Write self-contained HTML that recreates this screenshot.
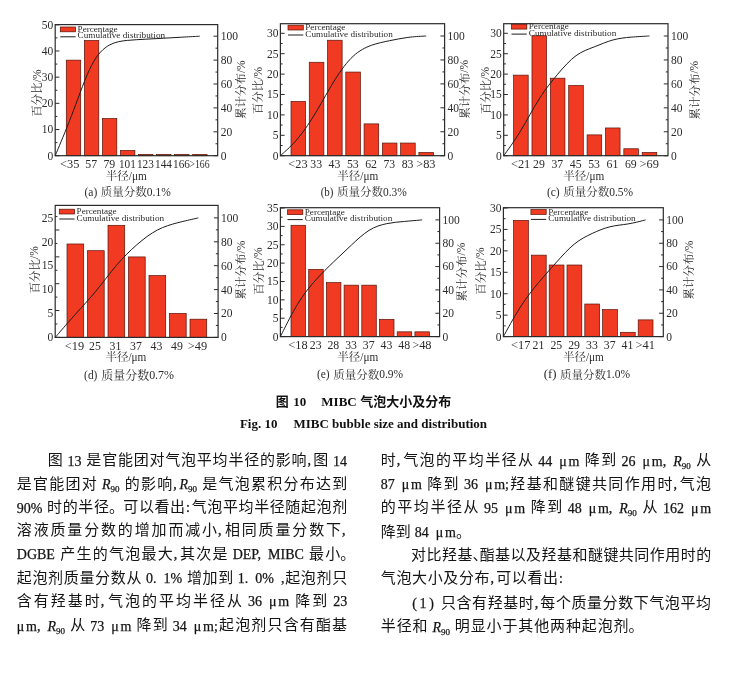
<!DOCTYPE html>
<html lang="zh-CN">
<head>
<meta charset="utf-8">
<title>MIBC bubble size and distribution</title>
<style>
html,body{margin:0;padding:0;background:#fff}
body{width:735px;height:675px;overflow:hidden;font-family:"Liberation Serif","Noto Serif CJK SC",serif;color:#141414}
.page{position:relative;width:735px;height:675px;overflow:hidden;background:#fff}
.fig{margin:0;position:absolute;left:0;top:0;width:735px;height:440px}
.charts{position:absolute;left:0;top:0;display:block;font-family:"Liberation Serif","Noto Serif CJK SC",serif;fill:#2b2b2b}
.bar{fill:#f03a22;stroke:#5a1208;stroke-width:.7}
.fr{fill:none;stroke:#2b2b2b;stroke-width:1.2}
.ln{fill:none;stroke:#2b2b2b;stroke-width:1}
.cv{fill:none;stroke:#1c1c1c;stroke-width:1}
.tk{font-size:11.5px}
.txt,figcaption,.charts text{filter:grayscale(1)}
.lg{font-size:9.2px}
.cap{position:absolute;left:0;width:727px;text-align:center;font-weight:bold;font-size:13px;line-height:16px;white-space:nowrap;display:flex;justify-content:center;align-items:center;height:16px;color:#111}
.c1{top:394.3px}
.c2{top:416px}
.cj{flex:none;font-family:"Liberation Sans","Noto Sans CJK SC",sans-serif;font-size:13px;font-weight:bold;color:#111}
.g{width:15px;height:15.6px;flex:none;overflow:visible;display:block;color:#141414;font-family:"Liberation Serif","Noto Sans CJK SC",sans-serif;font-size:15px;line-height:15.6px;text-align:center;white-space:nowrap}
.nj{justify-content:flex-start!important}
.tl{position:absolute;height:22px;display:flex;justify-content:space-between;align-items:center;font-size:14px;line-height:22px;white-space:nowrap}
.k{display:flex;align-items:center;flex:none}
.p{-webkit-text-stroke:.3px #141414;display:block;width:6px;text-align:left;padding-left:1px;box-sizing:border-box}
.g.pc{width:6.75px;overflow:visible;text-align:left}
.g.pf{margin-right:7px}
.l{flex:none;position:relative;top:.5px;word-spacing:3.5px;-webkit-text-stroke:.25px #141414}
.u{letter-spacing:1.7px;margin-right:-1.7px}
.par{letter-spacing:2.6px;margin-right:3px}
.pl{margin-left:4px}
.pr{margin-right:4px}
.l sub{font-size:9px;vertical-align:baseline;position:relative;top:3px;line-height:0}
.l i{font-style:italic}

</style>
</head>
<body>
<main class="page">
<figure class="fig">
<svg class="charts" width="735" height="400" viewBox="0 0 735 400" role="img" aria-label="MIBC bubble size and distribution charts">
<g>
<rect class="bar" x="66.30" y="60.14" width="14.40" height="95.56"/>
<rect class="bar" x="84.35" y="40.51" width="14.40" height="115.19"/>
<rect class="bar" x="102.40" y="118.52" width="14.40" height="37.18"/>
<rect class="bar" x="120.45" y="150.46" width="14.40" height="5.24"/>
<rect class="bar" x="138.50" y="154.39" width="14.40" height="1.31"/>
<rect class="bar" x="156.55" y="154.39" width="14.40" height="1.31"/>
<rect class="bar" x="174.60" y="154.39" width="14.40" height="1.31"/>
<rect class="bar" x="192.65" y="154.39" width="14.40" height="1.31"/>
<rect class="fr" x="55.20" y="24.60" width="162.50" height="131.10"/>
<text class="tk" text-anchor="end" x="53.20" y="159.60">0</text>
<text class="tk" text-anchor="end" x="53.20" y="133.42">10</text>
<text class="tk" text-anchor="end" x="53.20" y="107.24">20</text>
<text class="tk" text-anchor="end" x="53.20" y="81.06">30</text>
<text class="tk" text-anchor="end" x="53.20" y="54.88">40</text>
<text class="tk" text-anchor="end" x="53.20" y="28.70">50</text>
<text class="tk" x="220.70" y="159.60">0</text>
<text class="tk" x="220.70" y="135.70">20</text>
<text class="tk" x="220.70" y="111.80">40</text>
<text class="tk" x="220.70" y="87.90">60</text>
<text class="tk" x="220.70" y="64.00">80</text>
<text class="tk" x="220.70" y="40.10">100</text>
<path class="ln" d="M55.20 155.70h4.2M55.20 142.61h2.2M55.20 129.52h4.2M55.20 116.43h2.2M55.20 103.34h4.2M55.20 90.25h2.2M55.20 77.16h4.2M55.20 64.07h2.2M55.20 50.98h4.2M55.20 37.89h2.2M55.20 24.80h4.2M217.70 155.70h-4.2M217.70 143.75h-2.2M217.70 131.80h-4.2M217.70 119.85h-2.2M217.70 107.90h-4.2M217.70 95.95h-2.2M217.70 84.00h-4.2M217.70 72.05h-2.2M217.70 60.10h-4.2M217.70 48.15h-2.2M217.70 36.20h-4.2"/>
<path class="cv" d="M55.20 155.70C55.20 155.70 55.20 155.70 58.25 148.43C61.30 141.16 67.40 126.62 73.46 110.59C79.52 94.56 85.53 77.03 91.55 65.44C97.57 53.85 103.58 48.19 109.60 44.96C115.62 41.74 121.63 40.94 127.65 40.38C133.67 39.82 139.68 39.51 145.70 39.19C151.72 38.87 157.73 38.55 163.75 38.21C169.77 37.87 175.78 37.51 181.80 37.18C187.82 36.84 193.83 36.52 196.84 36.36C199.85 36.20 199.85 36.20 199.85 36.20"/>
<rect class="bar" x="60.30" y="27.00" width="15.3" height="4.8"/>
<path class="cv" d="M60.30 36.80h15.3"/>
<text class="lg" x="77.60" y="32.00" textLength="40" lengthAdjust="spacingAndGlyphs">Percentage</text>
<text class="lg" x="77.60" y="38.30" textLength="87.5" lengthAdjust="spacingAndGlyphs">Cumulative distribution</text>
<text class="tk" text-anchor="middle" x="69.70" y="168.10" textLength="19.4" lengthAdjust="spacingAndGlyphs">&lt;35</text>
<text class="tk" text-anchor="middle" x="91.25" y="168.10" textLength="11.8" lengthAdjust="spacingAndGlyphs">57</text>
<text class="tk" text-anchor="middle" x="109.30" y="168.10" textLength="11.8" lengthAdjust="spacingAndGlyphs">79</text>
<text class="tk" text-anchor="middle" x="127.35" y="168.10" textLength="16.9" lengthAdjust="spacingAndGlyphs">101</text>
<text class="tk" text-anchor="middle" x="145.40" y="168.10" textLength="16.9" lengthAdjust="spacingAndGlyphs">123</text>
<text class="tk" text-anchor="middle" x="163.45" y="168.10" textLength="16.9" lengthAdjust="spacingAndGlyphs">144</text>
<text class="tk" text-anchor="middle" x="181.50" y="168.10" textLength="16.9" lengthAdjust="spacingAndGlyphs">166</text>
<text class="tk" text-anchor="middle" x="199.55" y="168.10" textLength="20.0" lengthAdjust="spacingAndGlyphs">&gt;166</text>
<g transform="translate(126.30 175.80)"><title>半径/μm</title><text x="-20.47" y="4.20" font-size="11.50" textLength="23" lengthAdjust="spacingAndGlyphs">半径</text><text x="2.53" y="3.80" font-size="11.50" textLength="17.94" lengthAdjust="spacingAndGlyphs">/μm</text></g>
<g transform="translate(127.60 192.00)"><title>(a)质量分数0.1%</title><text x="-43.12" y="3.80" font-size="11.50" textLength="12.77" lengthAdjust="spacingAndGlyphs">(a)</text><text x="-26.80" y="4.20" font-size="11.50" textLength="46" lengthAdjust="spacingAndGlyphs">质量分数</text><text x="19.20" y="3.80" font-size="11.50" textLength="23.92" lengthAdjust="spacingAndGlyphs">0.1%</text></g>
<g transform="translate(36.80 93.00) rotate(-90)"><title>百分比/%</title><text x="-23.63" y="4.20" font-size="11.50" textLength="34.5" lengthAdjust="spacingAndGlyphs">百分比</text><text x="10.87" y="3.80" font-size="11.50" textLength="12.77" lengthAdjust="spacingAndGlyphs">/%</text></g>
<g transform="translate(240.80 89.70) rotate(-90)"><title>累计分布/%</title><text x="-29.38" y="4.20" font-size="11.50" textLength="46" lengthAdjust="spacingAndGlyphs">累计分布</text><text x="16.62" y="3.80" font-size="11.50" textLength="12.77" lengthAdjust="spacingAndGlyphs">/%</text></g>
</g>
<g>
<rect class="bar" x="291.00" y="101.44" width="14.60" height="54.26"/>
<rect class="bar" x="309.27" y="62.27" width="14.60" height="93.43"/>
<rect class="bar" x="327.54" y="40.24" width="14.60" height="115.46"/>
<rect class="bar" x="345.81" y="72.06" width="14.60" height="83.64"/>
<rect class="bar" x="364.08" y="123.88" width="14.60" height="31.82"/>
<rect class="bar" x="382.35" y="143.05" width="14.60" height="12.65"/>
<rect class="bar" x="400.62" y="143.05" width="14.60" height="12.65"/>
<rect class="bar" x="418.89" y="152.44" width="14.60" height="3.26"/>
<rect class="fr" x="280.40" y="23.70" width="164.20" height="132.00"/>
<text class="tk" text-anchor="end" x="278.40" y="159.60">0</text>
<text class="tk" text-anchor="end" x="278.40" y="139.20">5</text>
<text class="tk" text-anchor="end" x="278.40" y="118.80">10</text>
<text class="tk" text-anchor="end" x="278.40" y="98.40">15</text>
<text class="tk" text-anchor="end" x="278.40" y="78.00">20</text>
<text class="tk" text-anchor="end" x="278.40" y="57.60">25</text>
<text class="tk" text-anchor="end" x="278.40" y="37.20">30</text>
<text class="tk" x="447.60" y="159.60">0</text>
<text class="tk" x="447.60" y="135.66">20</text>
<text class="tk" x="447.60" y="111.72">40</text>
<text class="tk" x="447.60" y="87.78">60</text>
<text class="tk" x="447.60" y="63.84">80</text>
<text class="tk" x="447.60" y="39.90">100</text>
<path class="ln" d="M280.40 155.70h4.2M280.40 145.50h2.2M280.40 135.30h4.2M280.40 125.10h2.2M280.40 114.90h4.2M280.40 104.70h2.2M280.40 94.50h4.2M280.40 84.30h2.2M280.40 74.10h4.2M280.40 63.90h2.2M280.40 53.70h4.2M280.40 43.50h2.2M280.40 33.30h4.2M444.60 155.70h-4.2M444.60 143.73h-2.2M444.60 131.76h-4.2M444.60 119.79h-2.2M444.60 107.82h-4.2M444.60 95.85h-2.2M444.60 83.88h-4.2M444.60 71.91h-2.2M444.60 59.94h-4.2M444.60 47.97h-2.2M444.60 36.00h-4.2"/>
<path class="cv" d="M280.40 155.70C280.40 155.70 280.40 155.70 283.38 153.04C286.37 150.38 292.33 145.07 298.36 137.83C304.39 130.59 310.48 121.44 316.57 111.20C322.66 100.97 328.75 89.65 334.84 79.90C340.93 70.14 347.02 61.95 353.11 56.29C359.20 50.63 365.29 47.51 371.38 45.34C377.47 43.16 383.56 41.92 389.65 40.68C395.74 39.44 401.83 38.20 407.92 37.42C414.01 36.64 420.10 36.32 423.14 36.16C426.19 36.00 426.19 36.00 426.19 36.00"/>
<rect class="bar" x="288.00" y="25.20" width="15.3" height="4.8"/>
<path class="cv" d="M288.00 35.00h15.3"/>
<text class="lg" x="305.30" y="30.20" textLength="40" lengthAdjust="spacingAndGlyphs">Percentage</text>
<text class="lg" x="305.30" y="36.50" textLength="87.5" lengthAdjust="spacingAndGlyphs">Cumulative distribution</text>
<text class="tk" text-anchor="middle" x="298.00" y="168.10" textLength="19.4" lengthAdjust="spacingAndGlyphs">&lt;23</text>
<text class="tk" text-anchor="middle" x="316.27" y="168.10" textLength="11.8" lengthAdjust="spacingAndGlyphs">33</text>
<text class="tk" text-anchor="middle" x="334.54" y="168.10" textLength="11.8" lengthAdjust="spacingAndGlyphs">43</text>
<text class="tk" text-anchor="middle" x="352.81" y="168.10" textLength="11.8" lengthAdjust="spacingAndGlyphs">53</text>
<text class="tk" text-anchor="middle" x="371.08" y="168.10" textLength="11.8" lengthAdjust="spacingAndGlyphs">62</text>
<text class="tk" text-anchor="middle" x="389.35" y="168.10" textLength="11.8" lengthAdjust="spacingAndGlyphs">73</text>
<text class="tk" text-anchor="middle" x="407.62" y="168.10" textLength="11.8" lengthAdjust="spacingAndGlyphs">83</text>
<text class="tk" text-anchor="middle" x="425.89" y="168.10" textLength="19.4" lengthAdjust="spacingAndGlyphs">&gt;83</text>
<g transform="translate(357.80 175.80)"><title>半径/μm</title><text x="-20.47" y="4.20" font-size="11.50" textLength="23" lengthAdjust="spacingAndGlyphs">半径</text><text x="2.53" y="3.80" font-size="11.50" textLength="17.94" lengthAdjust="spacingAndGlyphs">/μm</text></g>
<g transform="translate(363.80 192.00)"><title>(b)质量分数0.3%</title><text x="-43.12" y="3.80" font-size="11.50" textLength="12.77" lengthAdjust="spacingAndGlyphs">(b)</text><text x="-26.80" y="4.20" font-size="11.50" textLength="46" lengthAdjust="spacingAndGlyphs">质量分数</text><text x="19.20" y="3.80" font-size="11.50" textLength="23.92" lengthAdjust="spacingAndGlyphs">0.3%</text></g>
<g transform="translate(257.90 90.50) rotate(-90)"><title>百分比/%</title><text x="-23.63" y="4.20" font-size="11.50" textLength="34.5" lengthAdjust="spacingAndGlyphs">百分比</text><text x="10.87" y="3.80" font-size="11.50" textLength="12.77" lengthAdjust="spacingAndGlyphs">/%</text></g>
<g transform="translate(464.40 89.30) rotate(-90)"><title>累计分布/%</title><text x="-29.38" y="4.20" font-size="11.50" textLength="46" lengthAdjust="spacingAndGlyphs">累计分布</text><text x="16.62" y="3.80" font-size="11.50" textLength="12.77" lengthAdjust="spacingAndGlyphs">/%</text></g>
</g>
<g>
<rect class="bar" x="513.60" y="75.12" width="14.60" height="80.58"/>
<rect class="bar" x="531.97" y="35.75" width="14.60" height="119.95"/>
<rect class="bar" x="550.34" y="78.18" width="14.60" height="77.52"/>
<rect class="bar" x="568.71" y="85.52" width="14.60" height="70.18"/>
<rect class="bar" x="587.08" y="134.89" width="14.60" height="20.81"/>
<rect class="bar" x="605.45" y="127.96" width="14.60" height="27.74"/>
<rect class="bar" x="623.82" y="148.76" width="14.60" height="6.94"/>
<rect class="bar" x="642.19" y="152.44" width="14.60" height="3.26"/>
<rect class="fr" x="503.70" y="23.70" width="164.30" height="132.00"/>
<text class="tk" text-anchor="end" x="501.70" y="159.60">0</text>
<text class="tk" text-anchor="end" x="501.70" y="139.20">5</text>
<text class="tk" text-anchor="end" x="501.70" y="118.80">10</text>
<text class="tk" text-anchor="end" x="501.70" y="98.40">15</text>
<text class="tk" text-anchor="end" x="501.70" y="78.00">20</text>
<text class="tk" text-anchor="end" x="501.70" y="57.60">25</text>
<text class="tk" text-anchor="end" x="501.70" y="37.20">30</text>
<text class="tk" x="671.00" y="159.60">0</text>
<text class="tk" x="671.00" y="135.66">20</text>
<text class="tk" x="671.00" y="111.72">40</text>
<text class="tk" x="671.00" y="87.78">60</text>
<text class="tk" x="671.00" y="63.84">80</text>
<text class="tk" x="671.00" y="39.90">100</text>
<path class="ln" d="M503.70 155.70h4.2M503.70 145.50h2.2M503.70 135.30h4.2M503.70 125.10h2.2M503.70 114.90h4.2M503.70 104.70h2.2M503.70 94.50h4.2M503.70 84.30h2.2M503.70 74.10h4.2M503.70 63.90h2.2M503.70 53.70h4.2M503.70 43.50h2.2M503.70 33.30h4.2M668.00 155.70h-4.2M668.00 143.73h-2.2M668.00 131.76h-4.2M668.00 119.79h-2.2M668.00 107.82h-4.2M668.00 95.85h-2.2M668.00 83.88h-4.2M668.00 71.91h-2.2M668.00 59.94h-4.2M668.00 47.97h-2.2M668.00 36.00h-4.2"/>
<path class="cv" d="M503.70 155.70C503.70 155.70 503.70 155.70 506.57 151.75C509.43 147.80 515.17 139.90 521.09 130.07C527.02 120.24 533.15 108.48 539.27 98.80C545.39 89.12 551.52 81.52 557.64 74.28C563.76 67.04 569.89 60.16 576.01 55.70C582.13 51.24 588.26 49.20 594.38 46.82C600.50 44.44 606.63 41.72 612.75 40.02C618.87 38.32 625.00 37.64 631.12 37.14C637.24 36.64 643.37 36.32 646.43 36.16C649.49 36.00 649.49 36.00 649.49 36.00"/>
<rect class="bar" x="511.50" y="24.30" width="15.3" height="4.8"/>
<path class="cv" d="M511.50 34.10h15.3"/>
<text class="lg" x="528.80" y="29.30" textLength="40" lengthAdjust="spacingAndGlyphs">Percentage</text>
<text class="lg" x="528.80" y="35.60" textLength="87.5" lengthAdjust="spacingAndGlyphs">Cumulative distribution</text>
<text class="tk" text-anchor="middle" x="520.60" y="168.10" textLength="19.4" lengthAdjust="spacingAndGlyphs">&lt;21</text>
<text class="tk" text-anchor="middle" x="538.97" y="168.10" textLength="11.8" lengthAdjust="spacingAndGlyphs">29</text>
<text class="tk" text-anchor="middle" x="557.34" y="168.10" textLength="11.8" lengthAdjust="spacingAndGlyphs">37</text>
<text class="tk" text-anchor="middle" x="575.71" y="168.10" textLength="11.8" lengthAdjust="spacingAndGlyphs">45</text>
<text class="tk" text-anchor="middle" x="594.08" y="168.10" textLength="11.8" lengthAdjust="spacingAndGlyphs">53</text>
<text class="tk" text-anchor="middle" x="612.45" y="168.10" textLength="11.8" lengthAdjust="spacingAndGlyphs">61</text>
<text class="tk" text-anchor="middle" x="630.82" y="168.10" textLength="11.8" lengthAdjust="spacingAndGlyphs">69</text>
<text class="tk" text-anchor="middle" x="649.19" y="168.10" textLength="19.4" lengthAdjust="spacingAndGlyphs">&gt;69</text>
<g transform="translate(583.80 175.80)"><title>半径/μm</title><text x="-20.47" y="4.20" font-size="11.50" textLength="23" lengthAdjust="spacingAndGlyphs">半径</text><text x="2.53" y="3.80" font-size="11.50" textLength="17.94" lengthAdjust="spacingAndGlyphs">/μm</text></g>
<g transform="translate(590.00 192.00)"><title>(c)质量分数0.5%</title><text x="-43.12" y="3.80" font-size="11.50" textLength="12.77" lengthAdjust="spacingAndGlyphs">(c)</text><text x="-26.80" y="4.20" font-size="11.50" textLength="46" lengthAdjust="spacingAndGlyphs">质量分数</text><text x="19.20" y="3.80" font-size="11.50" textLength="23.92" lengthAdjust="spacingAndGlyphs">0.5%</text></g>
<g transform="translate(485.40 90.50) rotate(-90)"><title>百分比/%</title><text x="-23.63" y="4.20" font-size="11.50" textLength="34.5" lengthAdjust="spacingAndGlyphs">百分比</text><text x="10.87" y="3.80" font-size="11.50" textLength="12.77" lengthAdjust="spacingAndGlyphs">/%</text></g>
<g transform="translate(694.40 90.20) rotate(-90)"><title>累计分布/%</title><text x="-29.38" y="4.20" font-size="11.50" textLength="46" lengthAdjust="spacingAndGlyphs">累计分布</text><text x="16.62" y="3.80" font-size="11.50" textLength="12.77" lengthAdjust="spacingAndGlyphs">/%</text></g>
</g>
<g>
<rect class="bar" x="67.00" y="243.99" width="16.70" height="93.41"/>
<rect class="bar" x="87.50" y="250.70" width="16.70" height="86.70"/>
<rect class="bar" x="108.00" y="225.31" width="16.70" height="112.09"/>
<rect class="bar" x="128.50" y="256.93" width="16.70" height="80.47"/>
<rect class="bar" x="149.00" y="275.61" width="16.70" height="61.79"/>
<rect class="bar" x="169.50" y="313.45" width="16.70" height="23.95"/>
<rect class="bar" x="190.00" y="319.20" width="16.70" height="18.20"/>
<rect class="fr" x="55.20" y="205.40" width="162.90" height="132.00"/>
<text class="tk" text-anchor="end" x="53.20" y="341.30">0</text>
<text class="tk" text-anchor="end" x="53.20" y="317.35">5</text>
<text class="tk" text-anchor="end" x="53.20" y="293.40">10</text>
<text class="tk" text-anchor="end" x="53.20" y="269.45">15</text>
<text class="tk" text-anchor="end" x="53.20" y="245.50">20</text>
<text class="tk" text-anchor="end" x="53.20" y="221.55">25</text>
<text class="tk" x="221.10" y="341.30">0</text>
<text class="tk" x="221.10" y="317.40">20</text>
<text class="tk" x="221.10" y="293.50">40</text>
<text class="tk" x="221.10" y="269.60">60</text>
<text class="tk" x="221.10" y="245.70">80</text>
<text class="tk" x="221.10" y="221.80">100</text>
<path class="ln" d="M55.20 337.40h4.2M55.20 323.97h2.2M55.20 310.55h4.2M55.20 297.12h2.2M55.20 283.70h4.2M55.20 270.27h2.2M55.20 256.85h4.2M55.20 243.42h2.2M55.20 230.00h4.2M55.20 216.57h2.2M218.10 337.40h-4.2M218.10 325.45h-2.2M218.10 313.50h-4.2M218.10 301.55h-2.2M218.10 289.60h-4.2M218.10 277.65h-2.2M218.10 265.70h-4.2M218.10 253.75h-2.2M218.10 241.80h-4.2M218.10 229.85h-2.2M218.10 217.90h-4.2"/>
<path class="cv" d="M55.20 337.40C55.20 337.40 55.20 337.40 58.56 333.50C61.92 329.59 68.63 321.79 75.41 314.26C82.18 306.73 89.02 299.49 95.85 291.18C102.68 282.87 109.52 273.51 116.35 265.46C123.18 257.41 130.02 250.69 136.85 244.74C143.68 238.80 150.52 233.63 157.35 230.05C164.18 226.47 171.02 224.47 177.85 222.70C184.68 220.94 191.52 219.42 194.93 218.66C198.35 217.90 198.35 217.90 198.35 217.90"/>
<rect class="bar" x="59.30" y="209.20" width="15.3" height="4.8"/>
<path class="cv" d="M59.30 219.00h15.3"/>
<text class="lg" x="76.60" y="214.20" textLength="40" lengthAdjust="spacingAndGlyphs">Percentage</text>
<text class="lg" x="76.60" y="220.50" textLength="87.5" lengthAdjust="spacingAndGlyphs">Cumulative distribution</text>
<text class="tk" text-anchor="middle" x="74.45" y="349.80" textLength="19.4" lengthAdjust="spacingAndGlyphs">&lt;19</text>
<text class="tk" text-anchor="middle" x="94.95" y="349.80" textLength="11.8" lengthAdjust="spacingAndGlyphs">25</text>
<text class="tk" text-anchor="middle" x="115.45" y="349.80" textLength="11.8" lengthAdjust="spacingAndGlyphs">31</text>
<text class="tk" text-anchor="middle" x="135.95" y="349.80" textLength="11.8" lengthAdjust="spacingAndGlyphs">37</text>
<text class="tk" text-anchor="middle" x="156.45" y="349.80" textLength="11.8" lengthAdjust="spacingAndGlyphs">43</text>
<text class="tk" text-anchor="middle" x="176.95" y="349.80" textLength="11.8" lengthAdjust="spacingAndGlyphs">49</text>
<text class="tk" text-anchor="middle" x="197.45" y="349.80" textLength="19.4" lengthAdjust="spacingAndGlyphs">&gt;49</text>
<g transform="translate(125.90 357.00)"><title>半径/μm</title><text x="-20.47" y="4.20" font-size="11.50" textLength="23" lengthAdjust="spacingAndGlyphs">半径</text><text x="2.53" y="3.80" font-size="11.50" textLength="17.94" lengthAdjust="spacingAndGlyphs">/μm</text></g>
<g transform="translate(129.10 375.10)"><title>(d)质量分数0.7%</title><text x="-45.00" y="3.96" font-size="12.00" textLength="13.32" lengthAdjust="spacingAndGlyphs">(d)</text><text x="-27.96" y="4.40" font-size="12.00" textLength="48" lengthAdjust="spacingAndGlyphs">质量分数</text><text x="20.04" y="3.96" font-size="12.00" textLength="24.96" lengthAdjust="spacingAndGlyphs">0.7%</text></g>
<g transform="translate(34.40 269.80) rotate(-90)"><title>百分比/%</title><text x="-23.63" y="4.20" font-size="11.50" textLength="34.5" lengthAdjust="spacingAndGlyphs">百分比</text><text x="10.87" y="3.80" font-size="11.50" textLength="12.77" lengthAdjust="spacingAndGlyphs">/%</text></g>
<g transform="translate(241.20 270.00) rotate(-90)"><title>累计分布/%</title><text x="-29.38" y="4.20" font-size="11.50" textLength="46" lengthAdjust="spacingAndGlyphs">累计分布</text><text x="16.62" y="3.80" font-size="11.50" textLength="12.77" lengthAdjust="spacingAndGlyphs">/%</text></g>
</g>
<g>
<rect class="bar" x="291.00" y="225.28" width="14.50" height="111.32"/>
<rect class="bar" x="308.70" y="269.37" width="14.50" height="67.23"/>
<rect class="bar" x="326.40" y="282.59" width="14.50" height="54.01"/>
<rect class="bar" x="344.10" y="285.16" width="14.50" height="51.44"/>
<rect class="bar" x="361.80" y="285.16" width="14.50" height="51.44"/>
<rect class="bar" x="379.50" y="319.33" width="14.50" height="17.27"/>
<rect class="bar" x="397.20" y="331.82" width="14.50" height="4.78"/>
<rect class="bar" x="414.90" y="331.82" width="14.50" height="4.78"/>
<rect class="fr" x="280.40" y="207.70" width="159.20" height="128.90"/>
<text class="tk" text-anchor="end" x="278.40" y="340.50">0</text>
<text class="tk" text-anchor="end" x="278.40" y="322.13">5</text>
<text class="tk" text-anchor="end" x="278.40" y="303.76">10</text>
<text class="tk" text-anchor="end" x="278.40" y="285.39">15</text>
<text class="tk" text-anchor="end" x="278.40" y="267.02">20</text>
<text class="tk" text-anchor="end" x="278.40" y="248.65">25</text>
<text class="tk" text-anchor="end" x="278.40" y="230.28">30</text>
<text class="tk" text-anchor="end" x="278.40" y="211.91">35</text>
<text class="tk" x="442.60" y="340.50">0</text>
<text class="tk" x="442.60" y="317.16">20</text>
<text class="tk" x="442.60" y="293.82">40</text>
<text class="tk" x="442.60" y="270.48">60</text>
<text class="tk" x="442.60" y="247.14">80</text>
<text class="tk" x="442.60" y="223.80">100</text>
<path class="ln" d="M280.40 336.60h4.2M280.40 327.42h2.2M280.40 318.23h4.2M280.40 309.05h2.2M280.40 299.86h4.2M280.40 290.68h2.2M280.40 281.49h4.2M280.40 272.31h2.2M280.40 263.12h4.2M280.40 253.94h2.2M280.40 244.75h4.2M280.40 235.57h2.2M280.40 226.38h4.2M280.40 217.20h2.2M280.40 208.01h4.2M439.60 336.60h-4.2M439.60 324.93h-2.2M439.60 313.26h-4.2M439.60 301.59h-2.2M439.60 289.92h-4.2M439.60 278.25h-2.2M439.60 266.58h-4.2M439.60 254.91h-2.2M439.60 243.24h-4.2M439.60 231.57h-2.2M439.60 219.90h-4.2"/>
<path class="cv" d="M280.40 336.60C280.40 336.60 280.40 336.60 283.38 330.62C286.35 324.65 292.30 312.69 298.22 303.10C304.15 293.52 310.05 286.30 315.95 279.79C321.85 273.28 327.75 267.48 333.65 261.82C339.55 256.16 345.45 250.63 351.35 245.11C357.25 239.59 363.15 234.06 369.05 230.37C374.95 226.69 380.85 224.83 386.75 223.65C392.65 222.46 398.55 221.95 404.45 221.44C410.35 220.93 416.25 220.41 419.20 220.16C422.15 219.90 422.15 219.90 422.15 219.90"/>
<rect class="bar" x="287.50" y="209.80" width="15.3" height="4.8"/>
<path class="cv" d="M287.50 219.60h15.3"/>
<text class="lg" x="304.80" y="214.80" textLength="40" lengthAdjust="spacingAndGlyphs">Percentage</text>
<text class="lg" x="304.80" y="221.10" textLength="87.5" lengthAdjust="spacingAndGlyphs">Cumulative distribution</text>
<text class="tk" text-anchor="middle" x="297.95" y="349.00" textLength="19.4" lengthAdjust="spacingAndGlyphs">&lt;18</text>
<text class="tk" text-anchor="middle" x="315.65" y="349.00" textLength="11.8" lengthAdjust="spacingAndGlyphs">23</text>
<text class="tk" text-anchor="middle" x="333.35" y="349.00" textLength="11.8" lengthAdjust="spacingAndGlyphs">28</text>
<text class="tk" text-anchor="middle" x="351.05" y="349.00" textLength="11.8" lengthAdjust="spacingAndGlyphs">33</text>
<text class="tk" text-anchor="middle" x="368.75" y="349.00" textLength="11.8" lengthAdjust="spacingAndGlyphs">37</text>
<text class="tk" text-anchor="middle" x="386.45" y="349.00" textLength="11.8" lengthAdjust="spacingAndGlyphs">43</text>
<text class="tk" text-anchor="middle" x="404.15" y="349.00" textLength="11.8" lengthAdjust="spacingAndGlyphs">48</text>
<text class="tk" text-anchor="middle" x="421.85" y="349.00" textLength="19.4" lengthAdjust="spacingAndGlyphs">&gt;48</text>
<g transform="translate(357.80 357.00)"><title>半径/μm</title><text x="-20.47" y="4.20" font-size="11.50" textLength="23" lengthAdjust="spacingAndGlyphs">半径</text><text x="2.53" y="3.80" font-size="11.50" textLength="17.94" lengthAdjust="spacingAndGlyphs">/μm</text></g>
<g transform="translate(360.00 374.50)"><title>(e)质量分数0.9%</title><text x="-43.12" y="3.80" font-size="11.50" textLength="12.77" lengthAdjust="spacingAndGlyphs">(e)</text><text x="-26.80" y="4.20" font-size="11.50" textLength="46" lengthAdjust="spacingAndGlyphs">质量分数</text><text x="19.20" y="3.80" font-size="11.50" textLength="23.92" lengthAdjust="spacingAndGlyphs">0.9%</text></g>
<g transform="translate(258.30 271.00) rotate(-90)"><title>百分比/%</title><text x="-23.63" y="4.20" font-size="11.50" textLength="34.5" lengthAdjust="spacingAndGlyphs">百分比</text><text x="10.87" y="3.80" font-size="11.50" textLength="12.77" lengthAdjust="spacingAndGlyphs">/%</text></g>
<g transform="translate(461.50 272.00) rotate(-90)"><title>累计分布/%</title><text x="-29.38" y="4.20" font-size="11.50" textLength="46" lengthAdjust="spacingAndGlyphs">累计分布</text><text x="16.62" y="3.80" font-size="11.50" textLength="12.77" lengthAdjust="spacingAndGlyphs">/%</text></g>
</g>
<g>
<rect class="bar" x="513.60" y="220.42" width="14.80" height="116.18"/>
<rect class="bar" x="531.40" y="255.15" width="14.80" height="81.45"/>
<rect class="bar" x="549.20" y="265.01" width="14.80" height="71.59"/>
<rect class="bar" x="567.00" y="265.01" width="14.80" height="71.59"/>
<rect class="bar" x="584.80" y="304.02" width="14.80" height="32.58"/>
<rect class="bar" x="602.60" y="309.59" width="14.80" height="27.01"/>
<rect class="bar" x="620.40" y="332.31" width="14.80" height="4.29"/>
<rect class="bar" x="638.20" y="319.88" width="14.80" height="16.72"/>
<rect class="fr" x="503.40" y="207.70" width="159.90" height="128.90"/>
<text class="tk" text-anchor="end" x="501.40" y="340.50">0</text>
<text class="tk" text-anchor="end" x="501.40" y="319.06">5</text>
<text class="tk" text-anchor="end" x="501.40" y="297.63">10</text>
<text class="tk" text-anchor="end" x="501.40" y="276.19">15</text>
<text class="tk" text-anchor="end" x="501.40" y="254.76">20</text>
<text class="tk" text-anchor="end" x="501.40" y="233.33">25</text>
<text class="tk" text-anchor="end" x="501.40" y="211.89">30</text>
<text class="tk" x="666.30" y="340.50">0</text>
<text class="tk" x="666.30" y="317.16">20</text>
<text class="tk" x="666.30" y="293.82">40</text>
<text class="tk" x="666.30" y="270.48">60</text>
<text class="tk" x="666.30" y="247.14">80</text>
<text class="tk" x="666.30" y="223.80">100</text>
<path class="ln" d="M503.40 336.60h4.2M503.40 325.88h2.2M503.40 315.17h4.2M503.40 304.45h2.2M503.40 293.73h4.2M503.40 283.01h2.2M503.40 272.30h4.2M503.40 261.58h2.2M503.40 250.86h4.2M503.40 240.14h2.2M503.40 229.43h4.2M503.40 218.71h2.2M503.40 207.99h4.2M663.30 336.60h-4.2M663.30 324.93h-2.2M663.30 313.26h-4.2M663.30 301.59h-2.2M663.30 289.92h-4.2M663.30 278.25h-2.2M663.30 266.58h-4.2M663.30 254.91h-2.2M663.30 243.24h-4.2M663.30 231.57h-2.2M663.30 219.90h-4.2"/>
<path class="cv" d="M503.40 336.60C503.40 336.60 503.40 336.60 506.33 331.24C509.27 325.88 515.13 315.15 521.03 306.03C526.93 296.91 532.87 289.39 538.80 282.33C544.73 275.26 550.67 268.65 556.60 262.04C562.53 255.44 568.47 248.83 574.40 244.02C580.33 239.21 586.27 236.20 592.20 233.45C598.13 230.70 604.07 228.21 610.00 226.77C615.93 225.32 621.87 224.93 627.80 223.96C633.73 222.99 639.67 221.44 642.63 220.67C645.60 219.90 645.60 219.90 645.60 219.90"/>
<rect class="bar" x="530.90" y="209.60" width="15.3" height="4.8"/>
<path class="cv" d="M530.90 219.40h15.3"/>
<text class="lg" x="548.20" y="214.60" textLength="40" lengthAdjust="spacingAndGlyphs">Percentage</text>
<text class="lg" x="548.20" y="220.90" textLength="87.5" lengthAdjust="spacingAndGlyphs">Cumulative distribution</text>
<text class="tk" text-anchor="middle" x="520.70" y="349.00" textLength="19.4" lengthAdjust="spacingAndGlyphs">&lt;17</text>
<text class="tk" text-anchor="middle" x="538.50" y="349.00" textLength="11.8" lengthAdjust="spacingAndGlyphs">21</text>
<text class="tk" text-anchor="middle" x="556.30" y="349.00" textLength="11.8" lengthAdjust="spacingAndGlyphs">25</text>
<text class="tk" text-anchor="middle" x="574.10" y="349.00" textLength="11.8" lengthAdjust="spacingAndGlyphs">29</text>
<text class="tk" text-anchor="middle" x="591.90" y="349.00" textLength="11.8" lengthAdjust="spacingAndGlyphs">33</text>
<text class="tk" text-anchor="middle" x="609.70" y="349.00" textLength="11.8" lengthAdjust="spacingAndGlyphs">37</text>
<text class="tk" text-anchor="middle" x="627.50" y="349.00" textLength="11.8" lengthAdjust="spacingAndGlyphs">41</text>
<text class="tk" text-anchor="middle" x="645.30" y="349.00" textLength="19.4" lengthAdjust="spacingAndGlyphs">&gt;41</text>
<g transform="translate(583.40 357.00)"><title>半径/μm</title><text x="-20.47" y="4.20" font-size="11.50" textLength="23" lengthAdjust="spacingAndGlyphs">半径</text><text x="2.53" y="3.80" font-size="11.50" textLength="17.94" lengthAdjust="spacingAndGlyphs">/μm</text></g>
<g transform="translate(586.90 374.50)"><title>(f)质量分数1.0%</title><text x="-43.12" y="3.80" font-size="11.50" textLength="12.77" lengthAdjust="spacingAndGlyphs">(f)</text><text x="-26.80" y="4.20" font-size="11.50" textLength="46" lengthAdjust="spacingAndGlyphs">质量分数</text><text x="19.20" y="3.80" font-size="11.50" textLength="23.92" lengthAdjust="spacingAndGlyphs">1.0%</text></g>
<g transform="translate(480.40 271.00) rotate(-90)"><title>百分比/%</title><text x="-23.63" y="4.20" font-size="11.50" textLength="34.5" lengthAdjust="spacingAndGlyphs">百分比</text><text x="10.87" y="3.80" font-size="11.50" textLength="12.77" lengthAdjust="spacingAndGlyphs">/%</text></g>
<g transform="translate(689.00 270.00) rotate(-90)"><title>累计分布/%</title><text x="-29.38" y="4.20" font-size="11.50" textLength="46" lengthAdjust="spacingAndGlyphs">累计分布</text><text x="16.62" y="3.80" font-size="11.50" textLength="12.77" lengthAdjust="spacingAndGlyphs">/%</text></g>
</g>
</svg>
<figcaption>
<div class="cap c1"><span class="cj">图</span><span style="margin-left:4.5px">10</span><span style="margin:0 3.5px 0 15px">MIBC</span><span class="cj">气泡大小及分布</span></div>
<div class="cap c2"><span>Fig. 10</span><span style="margin-left:16px">MIBC bubble size and distribution</span></div>
</figcaption>
</figure>
<section class="txt">
<div class="tl" style="left:47.8px;top:450.0px;width:299.4px"><span class="g">图</span><span class="l pl pr">13</span><span class="g">是</span><span class="g">官</span><span class="g">能</span><span class="g">团</span><span class="g">对</span><span class="g">气</span><span class="g">泡</span><span class="g">平</span><span class="g">均</span><span class="g">半</span><span class="g">径</span><span class="g">的</span><span class="g">影</span><span class="k"><span class="g">响</span><span class="p">,</span></span><span class="g">图</span><span class="l pl">14</span></div>
<div class="tl" style="left:16.8px;top:473.6px;width:330.4px"><span class="g">是</span><span class="g">官</span><span class="g">能</span><span class="g">团</span><span class="g">对</span><span class="l pl pr"><i>R</i><sub>90</sub></span><span class="g">的</span><span class="g">影</span><span class="k"><span class="g">响</span><span class="p">,</span></span><span class="l pr"><i>R</i><sub>90</sub></span><span class="g">是</span><span class="g">气</span><span class="g">泡</span><span class="g">累</span><span class="g">积</span><span class="g">分</span><span class="g">布</span><span class="g">达</span><span class="g">到</span></div>
<div class="tl" style="left:16.8px;top:497.2px;width:330.4px"><span class="l pr">90%</span><span class="g">时</span><span class="g">的</span><span class="g">半</span><span class="k"><span class="g">径</span><span class="g pc pf">。</span></span><span class="g">可</span><span class="g">以</span><span class="g">看</span><span class="k"><span class="g">出</span><span class="p">:</span></span><span class="g">气</span><span class="g">泡</span><span class="g">平</span><span class="g">均</span><span class="g">半</span><span class="g">径</span><span class="g">随</span><span class="g">起</span><span class="g">泡</span><span class="g">剂</span></div>
<div class="tl" style="left:16.8px;top:520.0px;width:330.4px"><span class="g">溶</span><span class="g">液</span><span class="g">质</span><span class="g">量</span><span class="g">分</span><span class="g">数</span><span class="g">的</span><span class="g">增</span><span class="g">加</span><span class="g">而</span><span class="g">减</span><span class="k"><span class="g">小</span><span class="p">,</span></span><span class="g">相</span><span class="g">同</span><span class="g">质</span><span class="g">量</span><span class="g">分</span><span class="g">数</span><span class="k"><span class="g">下</span><span class="p">,</span></span></div>
<div class="tl" style="left:16.8px;top:543.8px;width:330.4px"><span class="l pr">DGBE</span><span class="g">产</span><span class="g">生</span><span class="g">的</span><span class="g">气</span><span class="g">泡</span><span class="g">最</span><span class="k"><span class="g">大</span><span class="p">,</span></span><span class="g">其</span><span class="g">次</span><span class="g">是</span><span class="l pl pr">DEP, MIBC</span><span class="g">最</span><span class="k"><span class="g">小</span><span class="g pc">。</span></span></div>
<div class="tl" style="left:16.8px;top:567.5px;width:330.4px"><span class="g">起</span><span class="g">泡</span><span class="g">剂</span><span class="g">质</span><span class="g">量</span><span class="g">分</span><span class="g">数</span><span class="g">从</span><span class="l pl pr">0. 1%</span><span class="g">增</span><span class="g">加</span><span class="g">到</span><span class="l pl">1. 0% ,</span><span class="g">起</span><span class="g">泡</span><span class="g">剂</span><span class="g">只</span></div>
<div class="tl" style="left:16.8px;top:590.6px;width:330.4px"><span class="g">含</span><span class="g">有</span><span class="g">羟</span><span class="g">基</span><span class="k"><span class="g">时</span><span class="p">,</span></span><span class="g">气</span><span class="g">泡</span><span class="g">的</span><span class="g">平</span><span class="g">均</span><span class="g">半</span><span class="g">径</span><span class="g">从</span><span class="l pl pr">36 <span class="u">μm</span></span><span class="g">降</span><span class="g">到</span><span class="l pl">23</span></div>
<div class="tl" style="left:16.8px;top:615.2px;width:330.4px"><span class="l pr"><span class="u">μm</span>, <i>R</i><sub>90</sub></span><span class="g">从</span><span class="l pl pr">73 <span class="u">μm</span></span><span class="g">降</span><span class="g">到</span><span class="l pl">34 <span class="u">μm</span>;</span><span class="g">起</span><span class="g">泡</span><span class="g">剂</span><span class="g">只</span><span class="g">含</span><span class="g">有</span><span class="g">酯</span><span class="g">基</span></div>
<div class="tl" style="left:380.8px;top:450.0px;width:330.4px"><span class="k"><span class="g">时</span><span class="p">,</span></span><span class="g">气</span><span class="g">泡</span><span class="g">的</span><span class="g">平</span><span class="g">均</span><span class="g">半</span><span class="g">径</span><span class="g">从</span><span class="l pl pr">44 <span class="u">μm</span></span><span class="g">降</span><span class="g">到</span><span class="l pl pr">26 <span class="u">μm</span>, <i>R</i><sub>90</sub></span><span class="g">从</span></div>
<div class="tl" style="left:380.8px;top:473.6px;width:330.4px"><span class="l pr">87 <span class="u">μm</span></span><span class="g">降</span><span class="g">到</span><span class="l pl">36 <span class="u">μm</span>;</span><span class="g">羟</span><span class="g">基</span><span class="g">和</span><span class="g">醚</span><span class="g">键</span><span class="g">共</span><span class="g">同</span><span class="g">作</span><span class="g">用</span><span class="k"><span class="g">时</span><span class="p">,</span></span><span class="g">气</span><span class="g">泡</span></div>
<div class="tl" style="left:380.8px;top:497.2px;width:330.4px"><span class="g">的</span><span class="g">平</span><span class="g">均</span><span class="g">半</span><span class="g">径</span><span class="g">从</span><span class="l pl pr">95 <span class="u">μm</span></span><span class="g">降</span><span class="g">到</span><span class="l pl pr">48 <span class="u">μm</span>, <i>R</i><sub>90</sub></span><span class="g">从</span><span class="l pl">162 <span class="u">μm</span></span></div>
<div class="tl nj" style="left:380.8px;top:521.3px;width:85.2px"><span class="g">降</span><span class="g">到</span><span class="k"><span class="l pl">84 <span class="u">μm</span></span><span class="g pc">。</span></span></div>
<div class="tl" style="left:411.0px;top:544.4px;width:300.2px"><span class="g">对</span><span class="g">比</span><span class="g">羟</span><span class="k"><span class="g">基</span><span class="g pc">、</span></span><span class="g">酯</span><span class="g">基</span><span class="g">以</span><span class="g">及</span><span class="g">羟</span><span class="g">基</span><span class="g">和</span><span class="g">醚</span><span class="g">键</span><span class="g">共</span><span class="g">同</span><span class="g">作</span><span class="g">用</span><span class="g">时</span><span class="g">的</span></div>
<div class="tl" style="left:380.8px;top:568.0px;width:183.4px"><span class="g">气</span><span class="g">泡</span><span class="g">大</span><span class="g">小</span><span class="g">及</span><span class="g">分</span><span class="k"><span class="g">布</span><span class="p">,</span></span><span class="g">可</span><span class="g">以</span><span class="g">看</span><span class="k"><span class="g">出</span><span class="p">:</span></span></div>
<div class="tl" style="left:412.3px;top:592.6px;width:298.9px"><span class="l pr par">(1)</span><span class="g">只</span><span class="g">含</span><span class="g">有</span><span class="g">羟</span><span class="g">基</span><span class="k"><span class="g">时</span><span class="p">,</span></span><span class="g">每</span><span class="g">个</span><span class="g">质</span><span class="g">量</span><span class="g">分</span><span class="g">数</span><span class="g">下</span><span class="g">气</span><span class="g">泡</span><span class="g">平</span><span class="g">均</span></div>
<div class="tl" style="left:380.8px;top:616.2px;width:254.7px"><span class="g">半</span><span class="g">径</span><span class="g">和</span><span class="l pl pr"><i>R</i><sub>90</sub></span><span class="g">明</span><span class="g">显</span><span class="g">小</span><span class="g">于</span><span class="g">其</span><span class="g">他</span><span class="g">两</span><span class="g">种</span><span class="g">起</span><span class="g">泡</span><span class="k"><span class="g">剂</span><span class="g pc">。</span></span></div>
</section>
</main>
</body>
</html>
